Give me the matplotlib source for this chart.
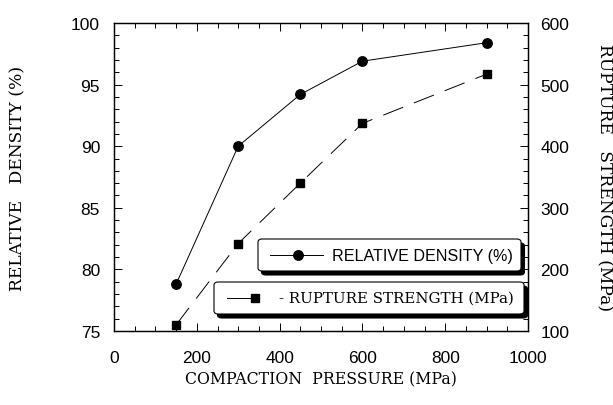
import matplotlib
matplotlib.use("Agg")
import matplotlib.pyplot as plt
from matplotlib.patches import FancyBboxPatch
from matplotlib.lines import Line2D
from matplotlib.ticker import MultipleLocator

pressure = [150, 300, 450, 600, 900]
rel_density = [78.8, 90.0, 94.2, 96.9, 98.4]
rupture_strength = [110, 242, 340, 437, 517]

x_ticks = [0, 200, 400, 600, 800, 1000]
left_ticks = [75, 80, 85, 90, 95, 100]
right_ticks = [100, 200, 300, 400, 500, 600]

SANS = "Liberation Sans"
SERIF = "DejaVu Serif"

fig = plt.figure(figsize=(6.13, 4.06), dpi=100)
W, H = 613, 406
ax_l, ax_r, ax_t, ax_b = 114, 528, 24, 332
ax = fig.add_axes([ax_l / W, 1 - ax_b / H, (ax_r - ax_l) / W, (ax_b - ax_t) / H])
ax2 = ax.twinx()

ax.set_xlim(0, 1000)
ax.set_ylim(75, 100)
ax2.set_ylim(100, 600)

ax.plot(pressure, rel_density, color="black", lw=0.7, marker="o", ms=6.8,
        zorder=3)
l2, = ax2.plot(pressure, rupture_strength, color="black", lw=0.7, marker="s",
               ms=6.2, zorder=3)
l2.set_dashes((22, 12))

ax.set_xticks(x_ticks)
ax.set_yticks(left_ticks)
ax2.set_yticks(right_ticks)
ax.xaxis.set_minor_locator(MultipleLocator(50))
ax.yaxis.set_minor_locator(MultipleLocator(1))
ax2.yaxis.set_minor_locator(MultipleLocator(20))

for a in (ax, ax2):
    for s in a.spines.values():
        s.set_linewidth(0.9)

ax.tick_params(axis="both", which="both", direction="in", top=True,
               labelsize=12.5, width=0.7, pad=10)
ax.tick_params(which="major", length=6)
ax.tick_params(which="minor", length=3.5)
ax.tick_params(axis="x", pad=14)
ax2.tick_params(axis="y", which="both", direction="in", labelsize=12.5,
                width=0.7, pad=9)
ax2.tick_params(which="major", length=6)
ax2.tick_params(which="minor", length=3.5)

for lab in ax.get_xticklabels() + ax.get_yticklabels() + ax2.get_yticklabels():
    lab.set_fontfamily(SANS)

xl = ax.set_xlabel("COMPACTION  PRESSURE (MPa)", fontfamily=SERIF,
                   fontsize=11.3, va="center")
yl = ax.set_ylabel("RELATIVE   DENSITY (%)", fontfamily=SERIF, fontsize=12.3,
                   va="center")
yr = ax2.set_ylabel("RUPTURE   STRENGTH (MPa)", fontfamily=SERIF,
                    fontsize=12.3, rotation=270, va="center", ha="center")
ax.xaxis.set_label_coords(0.5, (ax_b - 380) / (ax_b - ax_t))
ax.yaxis.set_label_coords((18 - ax_l) / (ax_r - ax_l), 0.5)
ax2.yaxis.set_label_coords((604 - ax_l) / (ax_r - ax_l), 0.5)


def px2ax(x, y):
    return ((x - ax_l) / (ax_r - ax_l), (ax_b - y) / (ax_b - ax_t))


def legend_box(x0, y0, x1, y1):
    (ax0, ay1) = px2ax(x0, y0)
    (ax1, ay0) = px2ax(x1, y1)
    dx = 3.5 / (ax_r - ax_l)
    dy = 4 / (ax_b - ax_t)
    shadow = FancyBboxPatch((ax0 + dx, ay0 - dy), ax1 - ax0, ay1 - ay0,
                            boxstyle="round,pad=0,rounding_size=0.01",
                            transform=ax2.transAxes, facecolor="black",
                            edgecolor="black", lw=0.8, zorder=5,
                            clip_on=False)
    box = FancyBboxPatch((ax0, ay0), ax1 - ax0, ay1 - ay0,
                         boxstyle="round,pad=0,rounding_size=0.01",
                         transform=ax2.transAxes, facecolor="white",
                         edgecolor="black", lw=0.8, zorder=6, clip_on=False)
    ax2.add_patch(shadow)
    ax2.add_patch(box)


legend_box(258, 240, 521, 272)
legend_box(214, 283, 524, 315)

# entry 1
xa, ya = px2ax(270, 256)
xb, _ = px2ax(323, 256)
xm, _ = px2ax(298, 256)
ax2.add_line(Line2D([xa, xb], [ya, ya], color="black", lw=0.7,
                    transform=ax2.transAxes, zorder=7))
ax2.add_line(Line2D([xm], [ya], color="black", marker="o", ms=6.8, lw=0,
                    transform=ax2.transAxes, zorder=7))
tx, _ = px2ax(332, 256)
ax2.text(tx, ya, "RELATIVE DENSITY (%)", transform=ax2.transAxes,
         fontfamily=SANS, fontsize=11.6, va="center", ha="left", zorder=7)

# entry 2
xa, ya = px2ax(227, 299)
xb, _ = px2ax(258, 299)
ax2.add_line(Line2D([xa, xb], [ya, ya], color="black", lw=0.7,
                    transform=ax2.transAxes, zorder=7))
ax2.add_line(Line2D([xb - 3 / 414], [ya], color="black", marker="s", ms=6.2,
                    lw=0, transform=ax2.transAxes, zorder=7))
tx, _ = px2ax(279, 299)
ax2.text(tx, ya, "- RUPTURE STRENGTH (MPa)", transform=ax2.transAxes,
         fontfamily=SERIF, fontsize=10.8, va="center", ha="left", zorder=7)

fig.savefig("out.png", dpi=100)
